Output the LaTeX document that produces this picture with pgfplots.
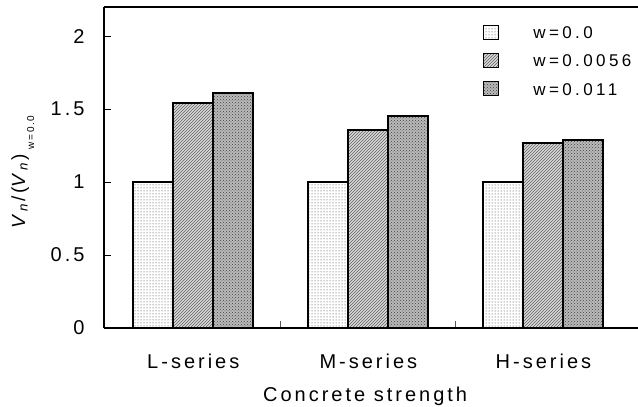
\documentclass[border=0pt]{standalone}
\usepackage{fontspec}
\setmainfont[LetterSpace=15]{Liberation Sans}
\usepackage{pgfplots}
\pgfplotsset{compat=1.18}
\usetikzlibrary{patterns,calc}
\begin{document}
\begin{tikzpicture}
\begin{axis}[
  width=534pt, height=321pt, scale only axis,
  xmin=-0.51, xmax=2.54, ymin=0, ymax=2.2,
  ybar=0pt, bar width=40pt,
  axis x line*=box, axis y line*=left,
  axis line style={line width=1.6pt},
  xtick={0,1,2}, xticklabels={L-series,M-series,H-series},
  major x tick style={draw=none},
  minor xtick={0.5,1.5},
  xtick pos=bottom, ytick pos=left,
  ytick={0,0.5,1,1.5,2}, yticklabels={0,0.5,1,1.5,2},
  tick align=inside, major tick length=7pt, minor tick length=7pt,
  tick style={black, line width=1pt},
  minor x tick style={gray!70!black, line width=1pt},
  axis on top,
  ticklabel style={font=\fontsize{20}{24}\selectfont},
  xticklabel style={yshift=-22pt},
  yticklabel style={xshift=-16pt},
  xlabel={Concrete strength},
  xlabel style={font=\fontsize{20}{24}\selectfont, at={(axis description cs:0.489,0)}, anchor=center, yshift=-68pt},
  ylabel={\textit{V}\textsubscript{\textit{n}}/(\textit{V}\textsubscript{\textit{n}})\raisebox{-0.9ex}{\fontsize{10}{11}\selectfont\enspace w=0.0}},
  ylabel style={font=\fontsize{19}{22}\selectfont, at={(axis description cs:-0.152,0.485)}, anchor=center},
  legend style={draw=none, fill=none, at={(rel axis cs:0.71,0.946)}, anchor=north west,
    font=\fontsize{17}{20}\selectfont\addfontfeature{LetterSpace=20}, row sep=11pt, inner sep=0pt,
    nodes={inner xsep=0pt},
    /tikz/every odd column/.style={column sep=34pt}},
  legend cell align=left,
  legend image code/.code={\draw[#1, line width=1pt] (0pt,-6pt) rectangle (15pt,8pt);},
]
\addplot[draw=black, line width=2pt, fill=white, postaction={pattern=dots, pattern color=gray!40!black}]
  coordinates {(0,1.0) (1,1.0) (2,1.0)};
\addplot[draw=black, line width=2pt, fill=gray!30, postaction={pattern=north east lines, pattern color=gray!75!black}]
  coordinates {(0,1.54) (1,1.36) (2,1.27)};
\addplot[draw=black, line width=2pt, fill=gray!55, postaction={pattern=crosshatch dots, pattern color=gray!50!black}]
  coordinates {(0,1.61) (1,1.45) (2,1.29)};
\legend{w=0.0, w=0.0056, w=0.011}
\coordinate (bl) at (rel axis cs:0,0);
\coordinate (tr) at (rel axis cs:1,1);
\end{axis}
\pgfresetboundingbox
\path ($(bl)+(-104pt,-79pt)$) rectangle ($(tr)+(0pt,7pt)$);
\end{tikzpicture}
\end{document}
